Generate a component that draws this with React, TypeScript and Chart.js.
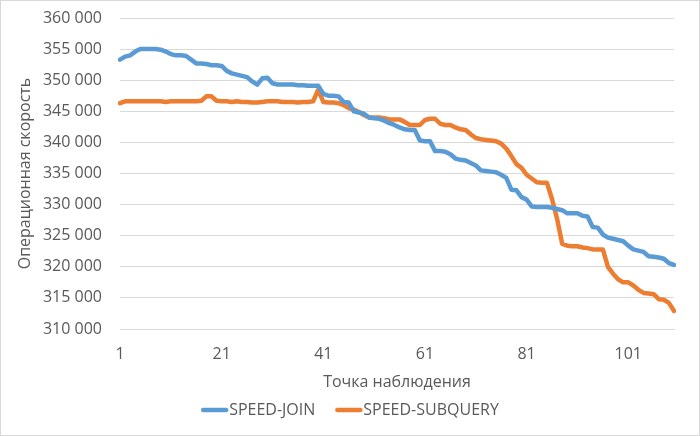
import { useEffect, useRef } from 'react';
import { Chart, registerables } from 'chart.js';

Chart.register(...registerables);

const speedJoin = [
  353300, 353800, 354000, 354600, 355000, 355000, 355000, 355000, 354900, 354600,
  354200, 354000, 354000, 353900, 353300, 352700, 352700, 352600, 352400, 352400,
  352300, 351500, 351100, 350900, 350700, 350500, 349800, 349300, 350300, 350400,
  349500, 349300, 349300, 349300, 349300, 349200, 349200, 349100, 349100, 349100,
  347800, 347500, 347500, 347400, 346500, 346400, 345000, 344800, 344600, 344000,
  343900, 343800, 343500, 343100, 342800, 342400, 342100, 342000, 342000, 340300,
  340200, 340200, 338600, 338600, 338500, 338100, 337400, 337200, 337100, 336700,
  336300, 335500, 335400, 335300, 335200, 334800, 334300, 332400, 332300, 331200,
  330800, 329700, 329600, 329600, 329600, 329500, 329300, 329100, 328600, 328600,
  328600, 328200, 328100, 326400, 326300, 325200, 324700, 324500, 324300, 324100,
  323400, 322800, 322600, 322400, 321700, 321600, 321500, 321300, 320600, 320300,
];

const speedSubquery = [
  346300, 346600, 346600, 346600, 346600, 346600, 346600, 346600, 346600, 346500,
  346600, 346600, 346600, 346600, 346600, 346600, 346700, 347400, 347400, 346700,
  346600, 346600, 346500, 346600, 346500, 346500, 346400, 346400, 346500, 346600,
  346600, 346600, 346500, 346500, 346500, 346400, 346500, 346500, 346600, 348500,
  346500, 346400, 346400, 346300, 346000, 345500, 345300, 344900, 344400, 344000,
  344000, 344000, 343900, 343700, 343700, 343700, 343300, 342800, 342800, 342800,
  343600, 343800, 343800, 343000, 342800, 342800, 342400, 342100, 342000, 341300,
  340700, 340500, 340400, 340300, 340200, 339800, 339000, 337800, 336500, 335900,
  334800, 334200, 333600, 333500, 333500, 330900, 327700, 323700, 323400, 323300,
  323300, 323100, 323000, 322800, 322800, 322800, 320000, 318900, 318000, 317500,
  317500, 317000, 316300, 315800, 315700, 315600, 314800, 314700, 314200, 312900,
];

const seriesNames = ['SPEED-JOIN', 'SPEED-SUBQUERY'];
const seriesColors = ['#5b9bd5', '#ed7d31'];
const xTickLabels = ['1', '21', '41', '61', '81', '101'];
const yMin = 310000;
const yMax = 360000;
const yStep = 5000;
const xTitle = 'Точка наблюдения';
const yTitle = 'Операционная скорость';

const observationPoints = speedJoin.map((_, i) => String(i + 1));

const FONT = "'Open Sans', 'Liberation Sans', sans-serif";
const TEXT = '#595959';
const GRID = '#d9d9d9';
const LINE_W = 4.5;

const fmt = (v: number) => String(v).replace(/\B(?=(\d{3})+(?!\d))/g, ' ');

// Legend swatch image: a short line placed so it sits just before the label text
function makeSwatch(color: string): HTMLCanvasElement {
  const c = document.createElement('canvas');
  c.width = 52;
  c.height = 8;
  const g = c.getContext('2d') as CanvasRenderingContext2D;
  g.strokeStyle = color;
  g.lineWidth = LINE_W;
  g.lineCap = 'round';
  g.beginPath();
  g.moveTo(18, 4);
  g.lineTo(41, 4);
  g.stroke();
  return c;
}

const borderPlugin = {
  id: 'outerBorder',
  afterLayout(chart: any) {
    if (chart.legend) {
      chart.legend.right += 26;
    }
  },
  afterDraw(chart: any) {
    const { ctx, width, height } = chart;
    ctx.save();
    ctx.strokeStyle = GRID;
    ctx.lineWidth = 1;
    ctx.strokeRect(0.5, 0.5, width - 1, height - 1);
    ctx.restore();
  },
};

export default function App() {
  const ref = useRef<HTMLCanvasElement>(null);

  useEffect(() => {
    document.body.style.margin = '0';
    const chart = new Chart(ref.current as HTMLCanvasElement, {
      type: 'line',
      data: {
        labels: observationPoints,
        datasets: [speedJoin, speedSubquery].map((d, i) => ({
          label: seriesNames[i],
          data: d,
          borderColor: seriesColors[i],
          backgroundColor: seriesColors[i],
          borderWidth: LINE_W,
          pointRadius: 0,
          pointHoverRadius: 0,
          pointStyle: makeSwatch(seriesColors[i]),
          tension: 0,
          fill: false,
          borderJoinStyle: 'round' as const,
          borderCapStyle: 'round' as const,
        })),
      },
      options: {
        animation: false,
        responsive: false,
        maintainAspectRatio: false,
        layout: { padding: { left: 0, right: 26, top: 18, bottom: 8 } },
        plugins: {
          tooltip: { enabled: false },
          legend: {
            position: 'bottom',
            labels: {
              usePointStyle: true,
              pointStyleWidth: 20,
              boxHeight: 16,
              padding: 20,
              color: TEXT,
              font: { family: FONT, size: 16 },
            },
          },
        },
        scales: {
          x: {
            type: 'category',
            offset: false,
            grid: { display: false, drawTicks: false },
            border: { display: true, color: GRID, width: 1 },
            ticks: {
              autoSkip: false,
              maxRotation: 0,
              padding: 16,
              color: TEXT,
              font: { family: FONT, size: 16 },
              callback: (_v: any, idx: number) =>
                xTickLabels.includes(observationPoints[idx]) ? observationPoints[idx] : '',
            },
            title: {
              display: true,
              text: xTitle,
              color: TEXT,
              font: { family: FONT, size: 16 },
              padding: { top: 0, bottom: -10 },
            },
            afterFit: (scale: any) => {
              scale.height = 53;
            },
          },
          y: {
            min: yMin,
            max: yMax,
            grid: {
              color: GRID,
              lineWidth: 1,
              drawTicks: true,
              tickLength: 18,
              tickColor: 'rgba(0,0,0,0)',
            },
            border: { display: false },
            ticks: {
              stepSize: yStep,
              padding: 0,
              color: TEXT,
              font: { family: FONT, size: 16 },
              callback: (v: any) => fmt(Number(v)),
            },
            title: {
              display: true,
              text: yTitle,
              color: TEXT,
              font: { family: FONT, size: 16 },
              padding: { top: 16, bottom: 0 },
            },
            afterFit: (scale: any) => {
              scale.width = 120;
            },
          },
        },
      },
      plugins: [borderPlugin],
    });
    return () => chart.destroy();
  }, []);

  return (
    <div style={{ width: 700, height: 436 }}>
      <canvas ref={ref} width={700} height={436} style={{ display: 'block' }} />
    </div>
  );
}
